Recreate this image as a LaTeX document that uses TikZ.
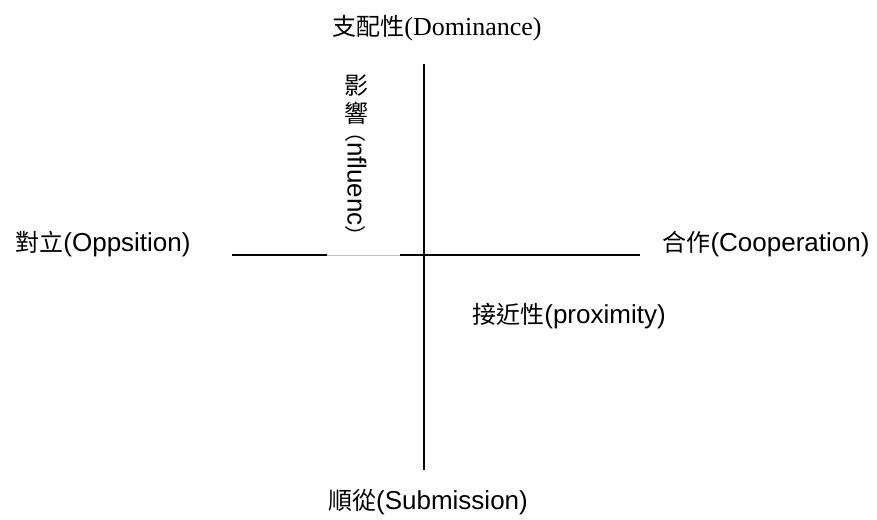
\documentclass[tikz,border=0pt]{standalone}
\usepackage{fontspec}
\setmainfont{Liberation Sans}
\newfontfamily\cjk{Noto Sans CJK TC}
\newfontfamily\timesf{Liberation Serif}
\newcommand{\zh}[1]{{\cjk\fontsize{24}{26}\selectfont #1}}
\tikzset{
  lbl/.style={inner sep=0pt, font=\fontsize{26}{28}\selectfont},
  axis/.style={line width=1.6pt},
  faint/.style={line width=0.8pt, black!25},
}

\begin{document}
\begin{tikzpicture}[x=1pt,y=-1pt]
    \useasboundingbox (0,0) rectangle (877,519);
    % axis labels
    \node[lbl] (dom) at (437,28) {\zh{支配性}\timesf(Dominance)};
    \node[lbl] (opp) at (103,244) {\zh{對立}(Oppsition)};
    \node[lbl] (coop) at (766,244) {\zh{合作}(Cooperation)};
    \node[lbl] (prox) at (569,316) {\zh{接近性}(proximity)};
    \node[lbl] (sub) at (428,502) {\zh{順從}(Submission)};
    % vertical label
    \node[lbl] (ying) at (356,86) {\zh{影}};
    \node[lbl] (xiang) at (356,113) {\zh{響}};
    \node[lbl, rotate=-90] (infl) at (356,184) {\zh{\fontsize{21}{22}\selectfont （}nfluenc\zh{\fontsize{21}{22}\selectfont ）}};
    % axes
    \coordinate (top) at (424,64);
    \coordinate (bot) at (424,470);
    \coordinate (left) at (232,255);
    \coordinate (gapA) at (327,255);
    \coordinate (gapB) at (400,255);
    \coordinate (right) at (640,255);
    \draw[axis] (top) -- (bot);
    \draw[axis] (left) -- (gapA);
    \draw[faint] (gapA) -- (gapB);
    \draw[axis] (gapB) -- (right);
\end{tikzpicture}
\end{document}
